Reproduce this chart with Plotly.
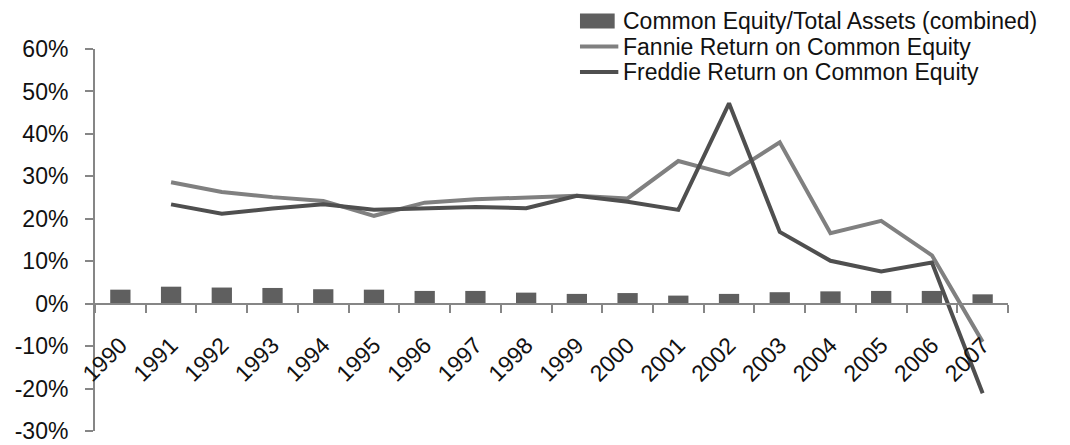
import plotly.graph_objects as go

# Data (percent)
years = [str(y) for y in range(1990, 2008)]
equity_to_assets = [3.3, 4.0, 3.8, 3.7, 3.4, 3.3, 3.0, 3.0, 2.6, 2.3,
                    2.5, 1.9, 2.3, 2.7, 2.9, 3.0, 3.0, 2.2]
fannie_roe = [None, 28.6, 26.3, 25.1, 24.2, 20.7, 23.8, 24.6, 25.0, 25.4,
              24.8, 33.6, 30.4, 38.0, 16.6, 19.5, 11.4, -9.0]
freddie_roe = [None, 23.4, 21.2, 22.4, 23.4, 22.1, 22.4, 22.8, 22.5, 25.4,
               24.0, 22.1, 47.2, 16.9, 10.1, 7.6, 9.7, -21.1]
y_ticks = list(range(-30, 61, 10))
y_labels = [f'{v}%' for v in y_ticks]

names = ['Common Equity/Total Assets (combined)',
         'Fannie Return on Common Equity',
         'Freddie Return on Common Equity']
colors = ['#5f5f5f', '#808080', '#4f4f4f']

y_min, y_max = -30, 60
axis_grey = '#868686'
font_size = 23

fig = go.Figure()

fig.add_trace(go.Bar(x=years, y=equity_to_assets, name=names[0],
                     marker=dict(color=colors[0], line=dict(width=0))))

fig.add_trace(go.Scatter(x=years, y=fannie_roe, mode='lines', name=names[1],
                         line=dict(color=colors[1], width=4)))

fig.add_trace(go.Scatter(x=years, y=freddie_roe, mode='lines', name=names[2],
                         line=dict(color=colors[2], width=4)))

# Excel-style legend in the top right corner (tighter rows than plotly's legend)
legend_x = 0.5312
legend_rows = [1.0733, 1.0065, 0.9398]
shapes = [dict(type='rect', xref='paper', yref='paper',
               x0=legend_x, x1=legend_x + 0.038,
               y0=legend_rows[0] - 0.0196, y1=legend_rows[0] + 0.0196,
               fillcolor=colors[0], line=dict(width=0))]
for i in (1, 2):
    shapes.append(dict(type='line', xref='paper', yref='paper',
                       x0=legend_x, x1=legend_x + 0.042,
                       y0=legend_rows[i], y1=legend_rows[i],
                       line=dict(color=colors[i], width=4)))
annotations = [dict(text=names[i], xref='paper', yref='paper',
                    x=legend_x + 0.046, y=legend_rows[i],
                    xanchor='left', yanchor='middle', showarrow=False,
                    borderpad=0, font=dict(size=font_size))
               for i in range(3)]

# the page body adds an 8px offset, so the figure is 8px smaller than the window
fig.update_layout(
    width=1062, height=437,
    margin=dict(l=87, r=62, t=41, b=14, autoexpand=False),
    paper_bgcolor='white',
    plot_bgcolor='white',
    font=dict(family='Liberation Sans', size=font_size, color='#111111'),
    bargap=0.6,
    showlegend=False,
    shapes=shapes,
    annotations=annotations,
    xaxis=dict(
        type='category',
        anchor='free',
        # x axis crosses the y axis at 0%
        position=(0 - y_min) / (y_max - y_min),
        showline=True, linecolor=axis_grey, linewidth=2,
        ticks='outside', tickson='boundaries', ticklen=8,
        tickcolor=axis_grey, tickwidth=2,
        tickangle=-45, ticklabelstandoff=18,
        showgrid=False, zeroline=False,
        automargin=False,
    ),
    yaxis=dict(
        range=[y_min, y_max],
        tickvals=y_ticks, ticktext=y_labels,
        showline=True, linecolor=axis_grey, linewidth=2,
        ticks='outside', ticklen=8, tickcolor=axis_grey, tickwidth=2,
        ticklabelstandoff=12,
        ticklabeloverflow='allow',
        showgrid=False, zeroline=False,
        automargin=False,
    ),
)

fig.write_html("out.html")
